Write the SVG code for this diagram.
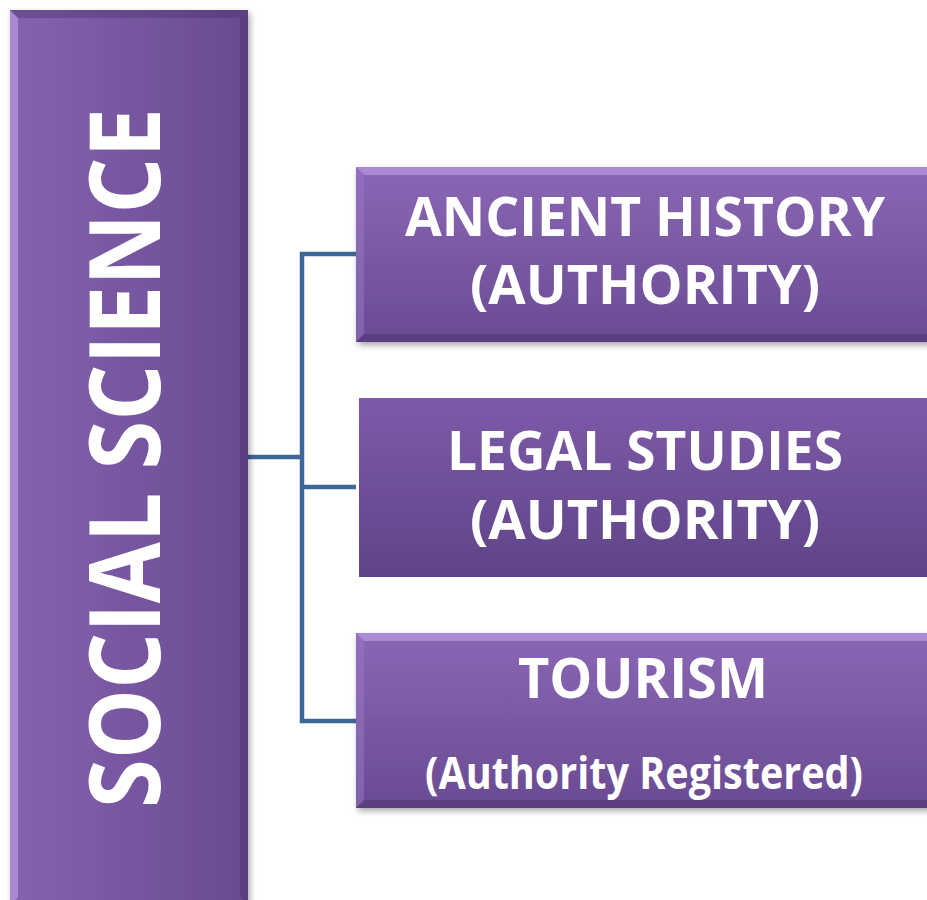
<svg xmlns="http://www.w3.org/2000/svg" width="927" height="900" viewBox="0 0 927 900">
<defs>
<linearGradient id="gv" x1="0" y1="0" x2="0" y2="1">
<stop offset="0" stop-color="#8A67B5"/>
<stop offset="1" stop-color="#694B93"/>
</linearGradient>
<linearGradient id="gv2" x1="0" y1="0" x2="0" y2="1">
<stop offset="0" stop-color="#7D5AA9"/>
<stop offset="1" stop-color="#5F4488"/>
</linearGradient>
<linearGradient id="gh" x1="0" y1="0" x2="1" y2="0">
<stop offset="0" stop-color="#8563B0"/>
<stop offset="1" stop-color="#684B90"/>
</linearGradient>
<filter id="sh" x="-10%" y="-10%" width="130%" height="130%">
<feDropShadow dx="2" dy="3" stdDeviation="3" flood-color="#000" flood-opacity="0.35"/>
</filter>
</defs>
<style>
.t{font-family:"Open Sans","Noto Sans","Liberation Sans",sans-serif;font-weight:700;fill:#fff;text-anchor:middle}
.c{fill:none;stroke:#3D6799;stroke-width:4.5;stroke-linejoin:miter}
.hi{fill:#C7A8F0;opacity:0.55}
.lo{fill:#3E2A5C;opacity:0.35}
</style>
<rect width="927" height="900" fill="#fff"/>

<g id="connectors">
<path class="c" d="M248 457 H302"/>
<path class="c" d="M356 254 H302 V721 H356"/>
<path class="c" d="M302 487 H356"/>
</g>

<g id="social-science">
<rect x="10" y="10" width="238" height="895" fill="url(#gh)" filter="url(#sh)"/>
<polygon class="hi" points="10,10 18,18 18,897 10,905"/>
<polygon points="10,10 248,10 240,18 18,18" fill="#4E3870" opacity="0.45"/>
<polygon class="lo" points="248,10 248,905 240,897 240,18"/>
<text class="t" transform="translate(160,458) rotate(-90)" font-size="98" textLength="700" lengthAdjust="spacingAndGlyphs">SOCIAL SCIENCE</text>
</g>

<g id="ancient-history">
<rect x="356" y="167" width="590" height="175" fill="url(#gv)" filter="url(#sh)"/>
<polygon class="hi" points="356,167 946,167 946,175 364,175"/>
<polygon points="356,167 364,175 364,334 356,342" fill="#9A78C4" opacity="0.5"/>
<polygon class="lo" points="356,342 364,334 946,334 946,342"/>
<text class="t" x="645" y="236" font-size="54" textLength="480" lengthAdjust="spacingAndGlyphs">ANCIENT HISTORY</text>
<text class="t" x="645" y="304" font-size="54" textLength="350" lengthAdjust="spacingAndGlyphs">(AUTHORITY)</text>
</g>

<g id="legal-studies">
<rect x="359" y="398" width="590" height="179" fill="url(#gv2)"/>
<text class="t" x="645" y="470" font-size="54" textLength="396" lengthAdjust="spacingAndGlyphs">LEGAL STUDIES</text>
<text class="t" x="645" y="539" font-size="54" textLength="350" lengthAdjust="spacingAndGlyphs">(AUTHORITY)</text>
</g>

<g id="tourism">
<rect x="356" y="633" width="590" height="175" fill="url(#gv)" filter="url(#sh)"/>
<polygon class="hi" points="356,633 946,633 946,641 364,641"/>
<polygon points="356,633 364,641 364,800 356,808" fill="#9A78C4" opacity="0.5"/>
<polygon class="lo" points="356,808 364,800 946,800 946,808"/>
<text class="t" x="643" y="698" font-size="56" textLength="250" lengthAdjust="spacingAndGlyphs">TOURISM</text>
<text class="t" x="644" y="789" font-size="45" textLength="438" lengthAdjust="spacingAndGlyphs">(Authority Registered)</text>
</g>
</svg>
